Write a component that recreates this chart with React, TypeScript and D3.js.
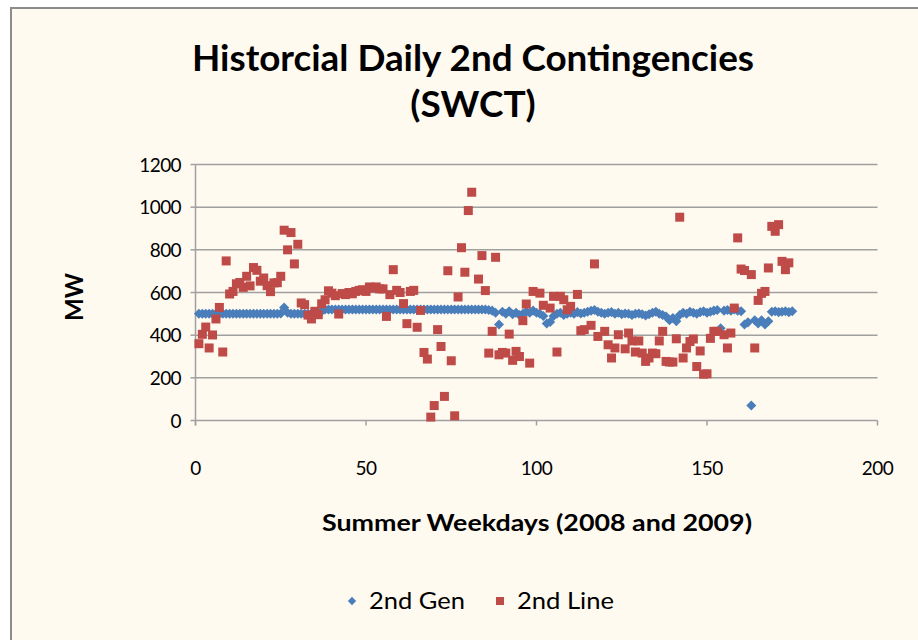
import React from "react";
import * as d3 from "d3";

const seriesNames = ["2nd Gen", "2nd Line"];
const xTicks = [0, 50, 100, 150, 200];
const yTicks = [0, 200, 400, 600, 800, 1000, 1200];

// 2nd Gen values, day index 1..175
const genValues: (number | null)[] = [
  500, 500, 500, 500, 500, 500, 500, 500, 500, 500,
  500, 500, 500, 500, 500, 500, 500, 500, 500, 500,
  500, 500, 500, 500, 502, 530, 505, 500, 500, 500,
  500, 500, 500, 500, 502, 505, 512, 520, 520, 520,
  520, 520, 520, 520, 520, 520, 520, 520, 520, 520,
  520, 520, 520, 520, 520, 520, 520, 520, 520, 520,
  520, 520, 520, 520, 520, 520, 520, 520, 520, 520,
  520, 520, 520, 520, 520, 520, 520, 520, 520, 520,
  520, 520, 520, 520, 520, 518, 515, 505, 450, 510,
  500, 512, 498, 505, 495, 500, 510, 505, 515, 505,
  500, 490, 455, 462, 490, 500, 505, 495, 500, 505,
  500, 508, 502, 505, 510, 514, 518, 510, 505, 500,
  505, 508, 500, 505, 498, 502, 500, 495, 500, 502,
  498, 492, 498, 505, 510, 500, 495, 488, 470, 480,
  465, 495, 505, 500, 510, 505, 500, 508, 512, 505,
  510, 515, 518, 432, 515, 518, 515, 520, 515, 512,
  450, 460, 70, 470, 455, 470, 450, 465, 510, 512,
  508, 510, 512, 508, 512,
];

// 2nd Line values, day index 1..175 (null = no point)
const lineValues: (number | null)[] = [
  360, 404, 438, 340, 401, 476, 530, 321, 748, 593,
  605, 641, 647, 624, 676, 631, 717, 704, 653, 668,
  632, 604, 645, 646, 676, 892, 800, 881, 734, 826,
  551, 543, 494, 476, 512, 496, 547, 566, 608, 597,
  585, 499, 595, 590, 600, 594, 605, 610, 613, 605,
  626, 621, 626, 617, 617, 488, 590, 707, 610, 600,
  548, 454, 605, 610, 437, 516, 319, 288, 16, 70,
  426, 347, 113, 702, 280, 22, 579, 810, 695, 984,
  1070, null, 663, 773, 609, 316, 418, 765, 308, 319,
  316, 405, 282, 324, 300, 468, 546, 269, 605, null,
  597, 540, null, 527, 582, 321, 582, 566, 519, 535,
  null, 591, 421, 426, null, 446, 734, 394, null, 418,
  355, 293, 340, 402, null, 336, 410, 373, 321, 373,
  316, 277, 293, 316, 313, 373, 418, 277, 274, 274,
  383, 953, 293, 340, 370, 382, 253, 326, 217, 219,
  385, 418, 418, null, 402, 340, 410, 527, 856, 710,
  703, null, 684, 340, 563, 596, 605, 715, 910, 887,
  918, 746, 707, 739, null,
];

const FONT = "Lato, 'Open Sans', sans-serif";

export default function App() {
  const x = d3.scaleLinear().domain([0, 200]).range([195.5, 877.5]);
  const y = d3.scaleLinear().domain([0, 1200]).range([420.5, 164.5]);

  const genPts = genValues
    .map((v, i) => ({ x: i + 1, v }))
    .filter((d) => d.v !== null) as { x: number; v: number }[];
  const linePts = lineValues
    .map((v, i) => ({ x: i + 1, v }))
    .filter((d) => d.v !== null) as { x: number; v: number }[];

  const diamond = d3.symbol().type(d3.symbolDiamond2).size(64)() as string;
  const blue = "#4A7EBB";
  const red = "#BE4B48";
  const grid = "#A0A0A0";

  return (
    <svg
      width={918}
      height={640}
      style={{ position: "absolute", left: 0, top: 0, background: "#fff" }}
      fontFamily={FONT}
    >
      <rect x={11} y={8} width={920} height={640} fill="#FFFAF0" stroke="#8C8C8C" strokeWidth={2} />
      <text x={473} y={71} textAnchor="middle" fontSize={37} fontWeight={700} fill="#000" textLength={562} lengthAdjust="spacingAndGlyphs">
        Historcial Daily 2nd Contingencies
      </text>
      <text x={473} y={117} textAnchor="middle" fontSize={37} fontWeight={700} fill="#000">
        (SWCT)
      </text>

      {yTicks.map((t) => (
        <g key={"gy" + t}>
          <line x1={x(0)} x2={x(200)} y1={y(t)} y2={y(t)} stroke={grid} strokeWidth={1.5} />
          <line x1={x(0) - 5} x2={x(0)} y1={y(t)} y2={y(t)} stroke={grid} strokeWidth={1.5} />
          <text x={181} y={y(t) + 7} textAnchor="end" fontSize={19} fill="#000" letterSpacing={-0.6}>
            {t}
          </text>
        </g>
      ))}
      <line x1={x(0)} x2={x(0)} y1={y(1200)} y2={y(0) + 5} stroke={grid} strokeWidth={1.5} />
      {xTicks.map((t) => (
        <g key={"gx" + t}>
          <line x1={x(t)} x2={x(t)} y1={y(0)} y2={y(0) + 5} stroke={grid} strokeWidth={1.5} />
          <text x={x(t)} y={475} textAnchor="middle" fontSize={19} fill="#000" letterSpacing={-0.6}>
            {t}
          </text>
        </g>
      ))}

      {genPts.map((d, i) => (
        <path key={"g" + i} d={diamond} transform={`translate(${x(d.x)},${y(d.v)})`} fill={blue} />
      ))}
      {linePts.map((d, i) => (
        <rect key={"l" + i} x={x(d.x) - 4.5} y={y(d.v) - 4.5} width={9} height={9} fill={red} />
      ))}

      <text x={537} y={531} textAnchor="middle" fontSize={23} fontWeight={700} fill="#000" textLength={430} lengthAdjust="spacingAndGlyphs">
        Summer Weekdays (2008 and 2009)
      </text>
      <text
        transform={`translate(83,297) rotate(-90)`}
        textAnchor="middle"
        fontSize={24}
        fontWeight={700}
        fill="#000"
      >
        MW
      </text>

      <g>
        <path d={d3.symbol().type(d3.symbolDiamond2).size(44)() as string} transform="translate(352,601)" fill={blue} />
        <text x={369} y={609} fontSize={23} fill="#000" textLength={96} lengthAdjust="spacingAndGlyphs">
          {seriesNames[0]}
        </text>
        <rect x={496} y={597} width={8} height={8} fill={red} />
        <text x={517} y={609} fontSize={23} fill="#000" textLength={97} lengthAdjust="spacingAndGlyphs">
          {seriesNames[1]}
        </text>
      </g>
    </svg>
  );
}
